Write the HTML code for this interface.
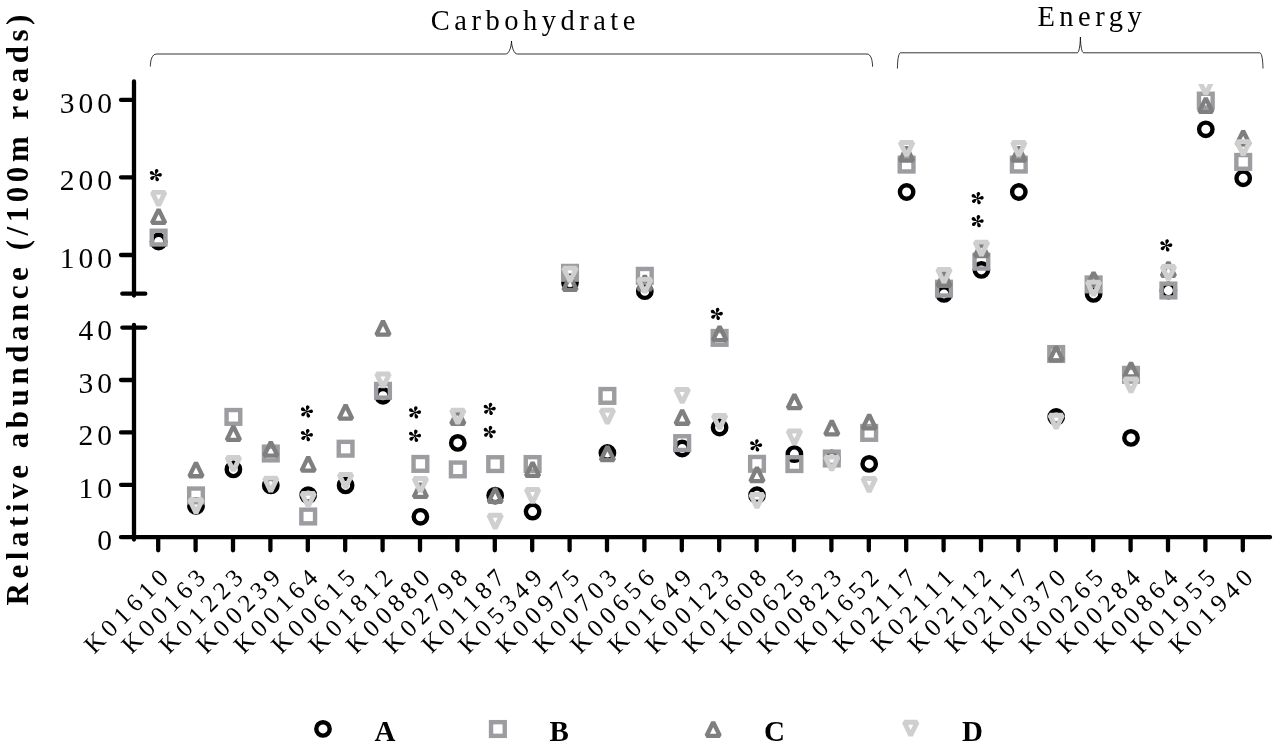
<!DOCTYPE html>
<html><head><meta charset="utf-8"><style>
html,body{margin:0;padding:0;background:#fff;width:1280px;height:749px;overflow:hidden}
svg{display:block;will-change:transform}
text{font-family:"Liberation Serif",serif;fill:#000}
.a{fill:none;stroke:#000;stroke-width:4.4}
.b{fill:none;stroke:#9c9ca1;stroke-width:4.4}
.c{fill:none;stroke:#7f7f7f;stroke-width:4.3;stroke-linejoin:bevel}
.d{fill:none;stroke:#cfcfcf;stroke-width:4.9;stroke-linejoin:bevel}
.ax{stroke:#000;stroke-width:4.3;stroke-linecap:round;fill:none}
.t{font-size:28.5px;letter-spacing:4.5px}
.yt{font-size:29.5px;letter-spacing:4.05px}
.xl{font-size:25px;letter-spacing:5.2px}
.br{fill:none;stroke:#000;stroke-width:0.8}
</style></head><body>
<svg width="1280" height="749" viewBox="0 0 1280 749">
<defs><clipPath id="clipTop"><rect x="0" y="84" width="1280" height="700"/></clipPath></defs>

<text transform="translate(27.8,605.4) rotate(-90)" style="font-size:31px;font-weight:bold;letter-spacing:4.55px">Relative abundance (/100m reads)</text>
<text x="430.8" y="29.6" class="t">Carbohydrate</text>
<text x="1037.4" y="25.5" class="t">Energy</text>
<path class="br" d="M150.3 66.5C150.5 60 152 54.1 156.5 54H505.9C508.6 54 511.3 48 511.5 41C511.7 48 514.4 54 517.1 54H867C870.6 54.1 872.4 59 872.6 66.7"/>
<path class="br" d="M897.4 68.5C897.6 60 898.3 53.4 900.5 52.8H1077.2C1079 52.8 1080.2 46 1080.4 37C1080.6 46 1081.8 52.8 1083.6 52.8H1259.8C1262 53.4 1262.8 60 1263 68.5"/>
<path class="ax" d="M134 81.5V295.5M121 99.9H134M121 177.3H134M121 255H134M122.3 293.7H145.3M134 325V539.5M122.3 327.6H145.3M121 380.0H134M121 432.4H134M121 484.8H134M121 537.2H1270M158.2 537.2V550.3M195.6 537.2V550.3M233.0 537.2V550.3M270.4 537.2V550.3M307.8 537.2V550.3M345.2 537.2V550.3M382.6 537.2V550.3M420.0 537.2V550.3M457.4 537.2V550.3M494.8 537.2V550.3M532.2 537.2V550.3M569.6 537.2V550.3M607.0 537.2V550.3M644.4 537.2V550.3M681.8 537.2V550.3M719.2 537.2V550.3M756.6 537.2V550.3M794.0 537.2V550.3M831.4 537.2V550.3M868.8 537.2V550.3M906.2 537.2V550.3M943.6 537.2V550.3M981.0 537.2V550.3M1018.4 537.2V550.3M1055.8 537.2V550.3M1093.2 537.2V550.3M1130.6 537.2V550.3M1168.0 537.2V550.3M1205.4 537.2V550.3M1242.8 537.2V550.3"/>
<text x="116.1" y="112.7" class="yt" text-anchor="end">300</text>
<text x="116.1" y="190.1" class="yt" text-anchor="end">200</text>
<text x="116.1" y="267.8" class="yt" text-anchor="end">100</text>
<text x="116.1" y="340.4" class="yt" text-anchor="end">40</text>
<text x="116.1" y="392.8" class="yt" text-anchor="end">30</text>
<text x="116.1" y="445.2" class="yt" text-anchor="end">20</text>
<text x="116.1" y="497.6" class="yt" text-anchor="end">10</text>
<text x="116.1" y="550.0" class="yt" text-anchor="end">0</text>
<text transform="translate(173.2,575.8) rotate(-45)" class="xl" text-anchor="end">K01610</text>
<text transform="translate(210.6,575.8) rotate(-45)" class="xl" text-anchor="end">K00163</text>
<text transform="translate(248.0,575.8) rotate(-45)" class="xl" text-anchor="end">K01223</text>
<text transform="translate(285.4,575.8) rotate(-45)" class="xl" text-anchor="end">K00239</text>
<text transform="translate(322.8,575.8) rotate(-45)" class="xl" text-anchor="end">K00164</text>
<text transform="translate(360.2,575.8) rotate(-45)" class="xl" text-anchor="end">K00615</text>
<text transform="translate(397.6,575.8) rotate(-45)" class="xl" text-anchor="end">K01812</text>
<text transform="translate(435.0,575.8) rotate(-45)" class="xl" text-anchor="end">K00880</text>
<text transform="translate(472.4,575.8) rotate(-45)" class="xl" text-anchor="end">K02798</text>
<text transform="translate(509.8,575.8) rotate(-45)" class="xl" text-anchor="end">K01187</text>
<text transform="translate(547.2,575.8) rotate(-45)" class="xl" text-anchor="end">K05349</text>
<text transform="translate(584.6,575.8) rotate(-45)" class="xl" text-anchor="end">K00975</text>
<text transform="translate(622.0,575.8) rotate(-45)" class="xl" text-anchor="end">K00703</text>
<text transform="translate(659.4,575.8) rotate(-45)" class="xl" text-anchor="end">K00656</text>
<text transform="translate(696.8,575.8) rotate(-45)" class="xl" text-anchor="end">K01649</text>
<text transform="translate(734.2,575.8) rotate(-45)" class="xl" text-anchor="end">K00123</text>
<text transform="translate(771.6,575.8) rotate(-45)" class="xl" text-anchor="end">K01608</text>
<text transform="translate(809.0,575.8) rotate(-45)" class="xl" text-anchor="end">K00625</text>
<text transform="translate(846.4,575.8) rotate(-45)" class="xl" text-anchor="end">K00823</text>
<text transform="translate(883.8,575.8) rotate(-45)" class="xl" text-anchor="end">K01652</text>
<text transform="translate(921.2,575.8) rotate(-45)" class="xl" text-anchor="end">K02117</text>
<text transform="translate(958.6,575.8) rotate(-45)" class="xl" text-anchor="end">K02111</text>
<text transform="translate(996.0,575.8) rotate(-45)" class="xl" text-anchor="end">K02112</text>
<text transform="translate(1033.4,575.8) rotate(-45)" class="xl" text-anchor="end">K02117</text>
<text transform="translate(1070.8,575.8) rotate(-45)" class="xl" text-anchor="end">K00370</text>
<text transform="translate(1108.2,575.8) rotate(-45)" class="xl" text-anchor="end">K00265</text>
<text transform="translate(1145.6,575.8) rotate(-45)" class="xl" text-anchor="end">K00284</text>
<text transform="translate(1183.0,575.8) rotate(-45)" class="xl" text-anchor="end">K00864</text>
<text transform="translate(1220.4,575.8) rotate(-45)" class="xl" text-anchor="end">K01955</text>
<text transform="translate(1257.8,575.8) rotate(-45)" class="xl" text-anchor="end">K01940</text>
<circle cx="158.6" cy="241.5" r="6.7" class="a"/>
<rect x="151.75" y="230.75" width="13.7" height="13.7" class="b"/>
<path d="M158.60 209.35L165.24 222.95L151.96 222.95Z" class="c"/>
<path d="M152.23 192.35L164.97 192.35L158.60 205.51Z" class="d"/>
<circle cx="196.0" cy="505.9" r="6.7" class="a"/>
<rect x="189.15" y="488.55" width="13.7" height="13.7" class="b"/>
<path d="M196.00 462.65L202.64 476.25L189.36 476.25Z" class="c"/>
<path d="M189.63 499.75L202.37 499.75L196.00 512.91Z" class="d"/>
<circle cx="233.4" cy="469.4" r="6.7" class="a"/>
<rect x="226.55" y="410.05" width="13.7" height="13.7" class="b"/>
<path d="M233.40 426.25L240.04 439.85L226.76 439.85Z" class="c"/>
<path d="M227.03 457.55L239.77 457.55L233.40 470.71Z" class="d"/>
<circle cx="270.8" cy="485.4" r="6.7" class="a"/>
<rect x="263.95" y="446.65" width="13.7" height="13.7" class="b"/>
<path d="M270.80 441.95L277.44 455.55L264.16 455.55Z" class="c"/>
<path d="M264.43 478.25L277.17 478.25L270.80 491.41Z" class="d"/>
<circle cx="308.2" cy="495.1" r="6.7" class="a"/>
<rect x="301.35" y="509.65" width="13.7" height="13.7" class="b"/>
<path d="M308.20 457.05L314.84 470.65L301.56 470.65Z" class="c"/>
<path d="M301.83 493.35L314.57 493.35L308.20 506.51Z" class="d"/>
<circle cx="345.6" cy="485.4" r="6.7" class="a"/>
<rect x="338.75" y="441.85" width="13.7" height="13.7" class="b"/>
<path d="M345.60 405.05L352.24 418.65L338.96 418.65Z" class="c"/>
<path d="M339.23 474.55L351.97 474.55L345.60 487.71Z" class="d"/>
<circle cx="383.0" cy="395.8" r="6.7" class="a"/>
<rect x="376.15" y="383.95" width="13.7" height="13.7" class="b"/>
<path d="M383.00 321.05L389.64 334.65L376.36 334.65Z" class="c"/>
<path d="M376.63 373.95L389.37 373.95L383.00 387.11Z" class="d"/>
<circle cx="420.4" cy="516.8" r="6.7" class="a"/>
<rect x="413.55" y="457.05" width="13.7" height="13.7" class="b"/>
<path d="M420.40 483.35L427.04 496.95L413.76 496.95Z" class="c"/>
<path d="M414.03 478.55L426.77 478.55L420.40 491.71Z" class="d"/>
<circle cx="457.8" cy="442.9" r="6.7" class="a"/>
<rect x="450.95" y="462.55" width="13.7" height="13.7" class="b"/>
<path d="M457.80 410.15L464.44 423.75L451.16 423.75Z" class="c"/>
<path d="M451.43 410.15L464.17 410.15L457.80 423.31Z" class="d"/>
<circle cx="495.2" cy="495.6" r="6.7" class="a"/>
<rect x="488.35" y="457.25" width="13.7" height="13.7" class="b"/>
<path d="M495.20 488.35L501.84 501.95L488.56 501.95Z" class="c"/>
<path d="M488.83 515.25L501.57 515.25L495.20 528.41Z" class="d"/>
<circle cx="532.6" cy="511.6" r="6.7" class="a"/>
<rect x="525.75" y="457.15" width="13.7" height="13.7" class="b"/>
<path d="M532.60 462.35L539.24 475.95L525.96 475.95Z" class="c"/>
<path d="M526.23 489.45L538.97 489.45L532.60 502.61Z" class="d"/>
<circle cx="570.0" cy="282.5" r="6.7" class="a"/>
<rect x="563.15" y="265.95" width="13.7" height="13.7" class="b"/>
<path d="M570.00 276.25L576.64 289.85L563.36 289.85Z" class="c"/>
<path d="M563.63 268.15L576.37 268.15L570.00 281.31Z" class="d"/>
<circle cx="607.4" cy="453.0" r="6.7" class="a"/>
<rect x="600.55" y="389.05" width="13.7" height="13.7" class="b"/>
<path d="M607.40 446.55L614.04 460.15L600.76 460.15Z" class="c"/>
<path d="M601.03 410.25L613.77 410.25L607.40 423.41Z" class="d"/>
<circle cx="644.8" cy="291.2" r="6.7" class="a"/>
<rect x="637.95" y="268.95" width="13.7" height="13.7" class="b"/>
<path d="M644.80 275.75L651.44 289.35L638.16 289.35Z" class="c"/>
<path d="M638.43 279.35L651.17 279.35L644.80 292.51Z" class="d"/>
<circle cx="682.2" cy="448.5" r="6.7" class="a"/>
<rect x="675.35" y="436.25" width="13.7" height="13.7" class="b"/>
<path d="M682.20 410.15L688.84 423.75L675.56 423.75Z" class="c"/>
<path d="M675.83 389.45L688.57 389.45L682.20 402.61Z" class="d"/>
<circle cx="719.6" cy="427.5" r="6.7" class="a"/>
<rect x="712.75" y="331.05" width="13.7" height="13.7" class="b"/>
<path d="M719.60 326.55L726.24 340.15L712.96 340.15Z" class="c"/>
<path d="M713.23 415.45L725.97 415.45L719.60 428.61Z" class="d"/>
<circle cx="757.0" cy="495.2" r="6.7" class="a"/>
<rect x="750.15" y="456.95" width="13.7" height="13.7" class="b"/>
<path d="M757.00 467.55L763.64 481.15L750.36 481.15Z" class="c"/>
<path d="M750.63 494.55L763.37 494.55L757.00 507.71Z" class="d"/>
<circle cx="794.4" cy="454.1" r="6.7" class="a"/>
<rect x="787.55" y="457.25" width="13.7" height="13.7" class="b"/>
<path d="M794.40 394.45L801.04 408.05L787.76 408.05Z" class="c"/>
<path d="M788.03 430.95L800.77 430.95L794.40 444.11Z" class="d"/>
<circle cx="831.8" cy="458.5" r="6.7" class="a"/>
<rect x="824.95" y="451.65" width="13.7" height="13.7" class="b"/>
<path d="M831.80 420.75L838.44 434.35L825.16 434.35Z" class="c"/>
<path d="M825.43 456.95L838.17 456.95L831.80 470.11Z" class="d"/>
<circle cx="869.2" cy="463.9" r="6.7" class="a"/>
<rect x="862.35" y="426.05" width="13.7" height="13.7" class="b"/>
<path d="M869.20 414.75L875.84 428.35L862.56 428.35Z" class="c"/>
<path d="M862.83 478.45L875.57 478.45L869.20 491.61Z" class="d"/>
<circle cx="906.6" cy="192.0" r="6.7" class="a"/>
<rect x="899.75" y="157.75" width="13.7" height="13.7" class="b"/>
<path d="M906.60 147.05L913.24 160.65L899.96 160.65Z" class="c"/>
<path d="M900.23 142.55L912.97 142.55L906.60 155.71Z" class="d"/>
<circle cx="944.0" cy="293.9" r="6.7" class="a"/>
<rect x="937.15" y="281.85" width="13.7" height="13.7" class="b"/>
<path d="M944.00 272.15L950.64 285.75L937.36 285.75Z" class="c"/>
<path d="M937.63 269.35L950.37 269.35L944.00 282.51Z" class="d"/>
<circle cx="981.4" cy="269.9" r="6.7" class="a"/>
<rect x="974.55" y="254.85" width="13.7" height="13.7" class="b"/>
<path d="M981.40 242.55L988.04 256.15L974.76 256.15Z" class="c"/>
<path d="M975.03 242.15L987.77 242.15L981.40 255.31Z" class="d"/>
<circle cx="1018.8" cy="192.0" r="6.7" class="a"/>
<rect x="1011.95" y="157.75" width="13.7" height="13.7" class="b"/>
<path d="M1018.80 147.05L1025.44 160.65L1012.16 160.65Z" class="c"/>
<path d="M1012.43 142.55L1025.17 142.55L1018.80 155.71Z" class="d"/>
<circle cx="1056.2" cy="417.0" r="6.7" class="a"/>
<rect x="1049.35" y="347.15" width="13.7" height="13.7" class="b"/>
<path d="M1056.20 346.75L1062.84 360.35L1049.56 360.35Z" class="c"/>
<path d="M1049.83 415.25L1062.57 415.25L1056.20 428.41Z" class="d"/>
<circle cx="1093.6" cy="293.9" r="6.7" class="a"/>
<rect x="1086.75" y="277.55" width="13.7" height="13.7" class="b"/>
<path d="M1093.60 272.35L1100.24 285.95L1086.96 285.95Z" class="c"/>
<path d="M1087.23 282.15L1099.97 282.15L1093.60 295.31Z" class="d"/>
<circle cx="1131.0" cy="437.9" r="6.7" class="a"/>
<rect x="1124.15" y="367.95" width="13.7" height="13.7" class="b"/>
<path d="M1131.00 362.75L1137.64 376.35L1124.36 376.35Z" class="c"/>
<path d="M1124.63 378.95L1137.37 378.95L1131.00 392.11Z" class="d"/>
<circle cx="1168.4" cy="290.5" r="6.7" class="a"/>
<rect x="1161.55" y="283.65" width="13.7" height="13.7" class="b"/>
<path d="M1168.40 262.25L1175.04 275.85L1161.76 275.85Z" class="c"/>
<path d="M1162.03 266.45L1174.77 266.45L1168.40 279.61Z" class="d"/>
<circle cx="1205.8" cy="129.3" r="6.7" class="a"/>
<rect x="1198.95" y="93.75" width="13.7" height="13.7" class="b"/>
<path d="M1205.80 98.15L1212.44 111.75L1199.16 111.75Z" class="c"/>
<path d="M1199.43 80.95L1212.17 80.95L1205.80 94.11Z" class="d" clip-path="url(#clipTop)"/>
<circle cx="1243.2" cy="178.3" r="6.7" class="a"/>
<rect x="1236.35" y="155.05" width="13.7" height="13.7" class="b"/>
<path d="M1243.20 130.95L1249.84 144.55L1236.56 144.55Z" class="c"/>
<path d="M1236.83 141.65L1249.57 141.65L1243.20 154.81Z" class="d"/>
<path d="M155.50 175.20L159.27 173.28A1.8 1.8 0 1 1 159.50 176.58ZM155.50 175.20L154.84 171.02A1.8 1.8 0 1 1 158.05 171.82ZM155.50 175.20L151.32 174.54A1.8 1.8 0 1 1 153.07 171.73ZM155.50 175.20L153.58 178.97A1.8 1.8 0 1 1 151.45 176.44ZM155.50 175.20L158.50 178.19A1.8 1.8 0 1 1 155.42 179.43ZM156.50 175.20A1 1 0 1 1 154.50 175.20A1 1 0 1 1 156.50 175.20Z" fill="#000"/>
<path d="M306.60 411.60L310.37 409.68A1.8 1.8 0 1 1 310.60 412.98ZM306.60 411.60L305.94 407.42A1.8 1.8 0 1 1 309.15 408.22ZM306.60 411.60L302.42 410.94A1.8 1.8 0 1 1 304.17 408.13ZM306.60 411.60L304.68 415.37A1.8 1.8 0 1 1 302.55 412.84ZM306.60 411.60L309.60 414.59A1.8 1.8 0 1 1 306.52 415.83ZM307.60 411.60A1 1 0 1 1 305.60 411.60A1 1 0 1 1 307.60 411.60Z" fill="#000"/>
<path d="M306.60 435.20L310.37 433.28A1.8 1.8 0 1 1 310.60 436.58ZM306.60 435.20L305.94 431.02A1.8 1.8 0 1 1 309.15 431.82ZM306.60 435.20L302.42 434.54A1.8 1.8 0 1 1 304.17 431.73ZM306.60 435.20L304.68 438.97A1.8 1.8 0 1 1 302.55 436.44ZM306.60 435.20L309.60 438.19A1.8 1.8 0 1 1 306.52 439.43ZM307.60 435.20A1 1 0 1 1 305.60 435.20A1 1 0 1 1 307.60 435.20Z" fill="#000"/>
<path d="M414.70 412.50L418.47 410.58A1.8 1.8 0 1 1 418.70 413.88ZM414.70 412.50L414.04 408.32A1.8 1.8 0 1 1 417.25 409.12ZM414.70 412.50L410.52 411.84A1.8 1.8 0 1 1 412.27 409.03ZM414.70 412.50L412.78 416.27A1.8 1.8 0 1 1 410.65 413.74ZM414.70 412.50L417.70 415.49A1.8 1.8 0 1 1 414.62 416.73ZM415.70 412.50A1 1 0 1 1 413.70 412.50A1 1 0 1 1 415.70 412.50Z" fill="#000"/>
<path d="M414.70 435.90L418.47 433.98A1.8 1.8 0 1 1 418.70 437.28ZM414.70 435.90L414.04 431.72A1.8 1.8 0 1 1 417.25 432.52ZM414.70 435.90L410.52 435.24A1.8 1.8 0 1 1 412.27 432.43ZM414.70 435.90L412.78 439.67A1.8 1.8 0 1 1 410.65 437.14ZM414.70 435.90L417.70 438.89A1.8 1.8 0 1 1 414.62 440.13ZM415.70 435.90A1 1 0 1 1 413.70 435.90A1 1 0 1 1 415.70 435.90Z" fill="#000"/>
<path d="M489.40 409.00L493.17 407.08A1.8 1.8 0 1 1 493.40 410.38ZM489.40 409.00L488.74 404.82A1.8 1.8 0 1 1 491.95 405.62ZM489.40 409.00L485.22 408.34A1.8 1.8 0 1 1 486.97 405.53ZM489.40 409.00L487.48 412.77A1.8 1.8 0 1 1 485.35 410.24ZM489.40 409.00L492.40 411.99A1.8 1.8 0 1 1 489.32 413.23ZM490.40 409.00A1 1 0 1 1 488.40 409.00A1 1 0 1 1 490.40 409.00Z" fill="#000"/>
<path d="M489.40 432.10L493.17 430.18A1.8 1.8 0 1 1 493.40 433.48ZM489.40 432.10L488.74 427.92A1.8 1.8 0 1 1 491.95 428.72ZM489.40 432.10L485.22 431.44A1.8 1.8 0 1 1 486.97 428.63ZM489.40 432.10L487.48 435.87A1.8 1.8 0 1 1 485.35 433.34ZM489.40 432.10L492.40 435.09A1.8 1.8 0 1 1 489.32 436.33ZM490.40 432.10A1 1 0 1 1 488.40 432.10A1 1 0 1 1 490.40 432.10Z" fill="#000"/>
<path d="M716.50 314.00L720.27 312.08A1.8 1.8 0 1 1 720.50 315.38ZM716.50 314.00L715.84 309.82A1.8 1.8 0 1 1 719.05 310.62ZM716.50 314.00L712.32 313.34A1.8 1.8 0 1 1 714.07 310.53ZM716.50 314.00L714.58 317.77A1.8 1.8 0 1 1 712.45 315.24ZM716.50 314.00L719.50 316.99A1.8 1.8 0 1 1 716.42 318.23ZM717.50 314.00A1 1 0 1 1 715.50 314.00A1 1 0 1 1 717.50 314.00Z" fill="#000"/>
<path d="M755.80 445.50L759.57 443.58A1.8 1.8 0 1 1 759.80 446.88ZM755.80 445.50L755.14 441.32A1.8 1.8 0 1 1 758.35 442.12ZM755.80 445.50L751.62 444.84A1.8 1.8 0 1 1 753.37 442.03ZM755.80 445.50L753.88 449.27A1.8 1.8 0 1 1 751.75 446.74ZM755.80 445.50L758.80 448.49A1.8 1.8 0 1 1 755.72 449.73ZM756.80 445.50A1 1 0 1 1 754.80 445.50A1 1 0 1 1 756.80 445.50Z" fill="#000"/>
<path d="M977.30 198.20L981.07 196.28A1.8 1.8 0 1 1 981.30 199.58ZM977.30 198.20L976.64 194.02A1.8 1.8 0 1 1 979.85 194.82ZM977.30 198.20L973.12 197.54A1.8 1.8 0 1 1 974.87 194.73ZM977.30 198.20L975.38 201.97A1.8 1.8 0 1 1 973.25 199.44ZM977.30 198.20L980.30 201.19A1.8 1.8 0 1 1 977.22 202.43ZM978.30 198.20A1 1 0 1 1 976.30 198.20A1 1 0 1 1 978.30 198.20Z" fill="#000"/>
<path d="M977.30 221.30L981.07 219.38A1.8 1.8 0 1 1 981.30 222.68ZM977.30 221.30L976.64 217.12A1.8 1.8 0 1 1 979.85 217.92ZM977.30 221.30L973.12 220.64A1.8 1.8 0 1 1 974.87 217.83ZM977.30 221.30L975.38 225.07A1.8 1.8 0 1 1 973.25 222.54ZM977.30 221.30L980.30 224.29A1.8 1.8 0 1 1 977.22 225.53ZM978.30 221.30A1 1 0 1 1 976.30 221.30A1 1 0 1 1 978.30 221.30Z" fill="#000"/>
<path d="M1166.00 245.50L1169.77 243.58A1.8 1.8 0 1 1 1170.00 246.88ZM1166.00 245.50L1165.34 241.32A1.8 1.8 0 1 1 1168.55 242.12ZM1166.00 245.50L1161.82 244.84A1.8 1.8 0 1 1 1163.57 242.03ZM1166.00 245.50L1164.08 249.27A1.8 1.8 0 1 1 1161.95 246.74ZM1166.00 245.50L1169.00 248.49A1.8 1.8 0 1 1 1165.92 249.73ZM1167.00 245.50A1 1 0 1 1 1165.00 245.50A1 1 0 1 1 1167.00 245.50Z" fill="#000"/>
<circle cx="323.0" cy="728.9" r="6.7" class="a"/>
<rect x="491.05" y="722.15" width="13.7" height="13.7" class="b"/>
<path d="M713.20 722.20L719.84 735.80L706.56 735.80Z" class="c"/>
<path d="M904.33 722.30L917.07 722.30L910.70 735.46Z" class="d"/>
<text x="374.5" y="741.2" style="font-size:29px;font-weight:bold">A</text>
<text x="549.5" y="741.2" style="font-size:29px;font-weight:bold">B</text>
<text x="764" y="741.2" style="font-size:29px;font-weight:bold">C</text>
<text x="962" y="741.2" style="font-size:29px;font-weight:bold">D</text>
</svg></body></html>
